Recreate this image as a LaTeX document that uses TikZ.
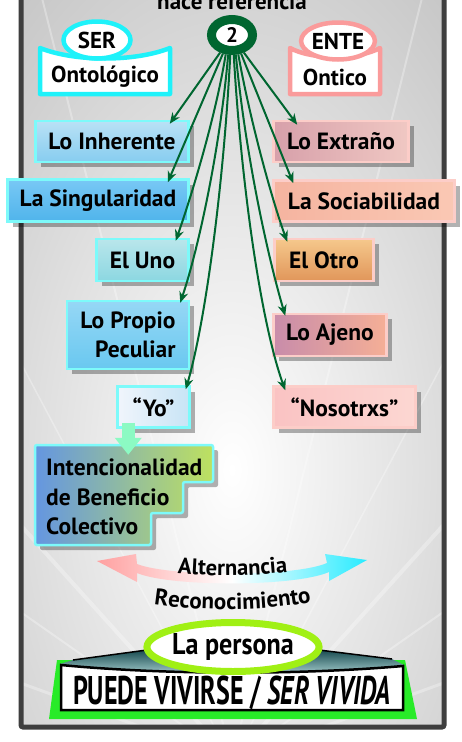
\documentclass[tikz,border=0pt]{standalone}
\usepackage{fontspec}
\setmainfont{PT Sans}
\usetikzlibrary{arrows.meta,shadows,calc,shapes.geometric,decorations.text}

\definecolor{frameC}{RGB}{62,62,62}
\definecolor{bgC}{RGB}{196,196,196}
\definecolor{dgreen}{RGB}{0,102,48}
\definecolor{serC}{RGB}{30,242,250}
\definecolor{enteC}{RGB}{250,155,155}
\definecolor{lbord}{RGB}{125,250,250}
\definecolor{rbord}{RGB}{252,205,200}
\definecolor{inhA}{RGB}{185,225,245}\definecolor{inhB}{RGB}{135,205,240}
\definecolor{sinA}{RGB}{120,200,245}\definecolor{sinB}{RGB}{80,180,235}
\definecolor{unoA}{RGB}{185,230,235}\definecolor{unoB}{RGB}{140,215,225}
\definecolor{proA}{RGB}{150,215,245}\definecolor{proB}{RGB}{105,200,240}
\definecolor{yoA}{RGB}{240,245,252}\definecolor{yoB}{RGB}{200,228,245}
\definecolor{extA}{RGB}{215,160,170}\definecolor{extB}{RGB}{240,200,195}
\definecolor{socA}{RGB}{245,180,160}\definecolor{socB}{RGB}{250,200,180}
\definecolor{otrA}{RGB}{245,200,140}\definecolor{otrB}{RGB}{225,150,90}
\definecolor{ajeA}{RGB}{200,140,170}\definecolor{ajeB}{RGB}{245,175,150}
\definecolor{nosA}{RGB}{250,195,195}\definecolor{nosB}{RGB}{252,215,210}
\definecolor{intA}{RGB}{100,150,225}\definecolor{intB}{RGB}{190,225,95}
\definecolor{arrG}{RGB}{140,250,195}
\definecolor{altL}{RGB}{255,160,160}\definecolor{altR}{RGB}{40,235,255}
\definecolor{perC}{RGB}{160,240,20}
\definecolor{baseG}{RGB}{40,235,40}
\definecolor{roofA}{RGB}{25,75,80}\definecolor{roofB}{RGB}{175,215,215}

\tikzset{
  boxfont/.style={font=\bfseries\fontsize{23.5}{29}\selectfont},
  shad/.style={drop shadow={shadow xshift=5pt,shadow yshift=-5pt,fill=black,opacity=0.3}},
  lbox/.style={boxfont, shad, draw=lbord, line width=2.5pt, minimum height=41, inner sep=2pt},
  rbox/.style={boxfont, shad, draw=rbord, line width=2.5pt, minimum height=41, inner sep=2pt},
  link/.style={draw=dgreen, line width=2pt, -{Stealth[length=11pt,width=9pt]}},
  bigfont/.style={font=\bfseries\fontsize{23}{23}\selectfont},
}

\begin{document}
\begin{tikzpicture}[x=1pt,y=-1pt]
\useasboundingbox (0,0) rectangle (462,742);
\fill[white] (0,0) rectangle (462,742);

% background
\begin{scope}
\clip (21,-10) rectangle (444,727);
\fill[bgC] (21,-10) rectangle (444,727);
\shade[inner color=white, outer color=bgC] (232,470) ellipse [x radius=360, y radius=640];
\foreach \a/\w in {200/3,215/2,228/4,242/1.5,256/2,284/2,298/1.5,312/4,325/2,340/3}
  \draw[white, opacity=0.3, line width=\w pt] (232,760) -- ++(\a:900);
\end{scope}
\draw[frameC, line width=5pt, rounded corners=2pt] (21,-10) rectangle (444,727);

% title and hub
\node[bigfont, anchor=base] (title) at (232,9) {hace referencia};
\node[ellipse, draw=dgreen, line width=9pt, fill=white, minimum width=41, minimum height=31, font=\bfseries\fontsize{21}{21}\selectfont, inner sep=0pt] (two) at (232,35) {2};

% SER
\filldraw[draw=serC, fill=white, line width=4.5pt, line join=round] (40,48) .. controls (75,62) and (135,62) .. (170,48) -- (170,94) -- (40,94) -- cycle;
\node[ellipse, draw=serC, fill=white, line width=4.5pt, minimum width=67, minimum height=37, bigfont, inner sep=0pt] (ser) at (97,40) {SER};
\node[bigfont] (onto) at (105,77) {Ontológico};

% ENTE
\filldraw[draw=enteC, fill=white, line width=4.5pt, line join=round] (290,48) .. controls (312,60) and (358,60) .. (380,48) -- (380,94) -- (290,94) -- cycle;
\node[ellipse, draw=enteC, fill=white, line width=4.5pt, minimum width=70, minimum height=37, bigfont, inner sep=0pt] (ente) at (338,41) {ENTE};
\node[bigfont] (ontico) at (335,77) {Ontico};

% left boxes
\node[lbox, top color=inhA, bottom color=inhB, minimum width=153] (inh) at (112,141.5) {Lo Inherente};
\node[lbox, top color=sinA, bottom color=sinB, minimum width=181, minimum height=42] (sing) at (98,200.5) {La Singularidad};
\node[lbox, top color=unoA, bottom color=unoB, minimum width=92, minimum height=42] (uno) at (142.5,260) {El Uno};
\node[lbox, top color=proA, bottom color=proB, minimum width=122, minimum height=68, align=right] (prop) at (128,335) {Lo Propio\\Peculiar};
\node[lbox, left color=yoA, right color=yoB, minimum width=72] (yo) at (153.5,407) {“Yo”};

% right boxes
\node[rbox, left color=extA, right color=extB, minimum width=135] (ext) at (341,141.5) {Lo Extraño};
\node[rbox, left color=socA, right color=socB, minimum width=181] (soc) at (364,201) {La Sociabilidad};
\node[rbox, top color=otrA, bottom color=otrB, minimum width=99, minimum height=42] (otro) at (324,260) {El Otro};
\node[rbox, left color=ajeA, right color=ajeB, minimum width=113, minimum height=42] (ajeno) at (330,335) {Lo Ajeno};
\node[rbox, left color=nosA, right color=nosB, minimum width=142] (nos) at (344.5,407) {“Nosotrxs”};

% intencionalidad
\path[shad, draw=lbord, line width=2.5pt, left color=intA, right color=intB, rounded corners=2pt] (35,445) -- (213,445) -- (213,482) -- (183,482) -- (183,513) -- (151,513) -- (151,545) -- (35,545) -- cycle;
\node[font=\bfseries\fontsize{23.5}{29.5}\selectfont, align=left, anchor=west, inner sep=0pt] (int) at (46,497) {Intencionalidad\\de Beneficio\\Colectivo};
\draw[arrG, line width=13pt, -{Triangle[length=17pt,width=26pt]}] ($(yo.south west)+(12,-6)$) -- ($(yo.south west)+(12,26)$);

% links
\draw[link] (two.236) -- ($(inh.north east)+(-20,4)$);
\draw[link] (two.244) -- ($(sing.north east)+(-22,4)$);
\draw[link] (two.252) .. controls (215,120) and (190,200) .. ($(uno.north east)+(-14,3)$);
\draw[link] (two.259) .. controls (220,150) and (198,250) .. ($(prop.north east)+(-10,3)$);
\draw[link] (two.265) .. controls (224,180) and (206,320) .. ($(yo.north east)+(-5,4)$);
\draw[link] (two.275) .. controls (241,180) and (260,320) .. ($(nos.north west)+(13,5)$);
\draw[link] (two.281) .. controls (245,150) and (266,250) .. ($(ajeno.north west)+(13,3)$);
\draw[link] (two.288) .. controls (250,120) and (272,200) .. ($(otro.north west)+(14,4)$);
\draw[link] (two.296) -- ($(soc.north west)+(21,4)$);
\draw[link] (two.304) -- ($(ext.north west)+(25,5)$);

% alternancia arrow
\shade[left color=altL, right color=altR, middle color=white] (97,561) -- (136,554) -- (137,564) .. controls (170,577) and (295,577) .. (327,563) -- (325,554) -- (367,560) -- (329,581) -- (329,572) .. controls (295,587) and (170,587) .. (137,573) -- (137,582) -- cycle;
\path[decorate, decoration={text along path, text align=center, text={|\bfseries\fontsize{22.5}{22.5}\selectfont|Alternancia}}] (130,567) .. controls (190,579) and (275,579) .. (335,564);
\path[decorate, decoration={text along path, text align=center, text={|\bfseries\fontsize{23}{23}\selectfont|Reconocimiento}}] (130,600) .. controls (190,613) and (275,613) .. (335,597);

% base
\fill[baseG] (57,660) -- (405,660) -- (417,719) -- (49,719) -- cycle;
\shade[top color=roofA, bottom color=roofB] (60,664) -- (73,660) -- (147,650) -- (319,650) -- (392,659) -- (404,665) .. controls (300,676) and (165,676) .. (60,664) -- cycle;
\draw[black, line width=1.5pt] (73,660) -- (147,650) (319,650) -- (392,659);
\filldraw[fill=white, draw=black, line width=2.5pt] (61,665) .. controls (165,675) and (300,675) .. (403,666) -- (403,710) -- (61,710) -- cycle;
\node[font=\bfseries\fontsize{40}{40}\selectfont, inner sep=0pt] (viv) at (232,693) {\scalebox{0.65}[1]{PUEDE VIVIRSE / \textit{SER VIVIDA}}};
\node[ellipse, draw=perC, fill=white, line width=7pt, minimum width=165, minimum height=49, font=\bfseries\fontsize{30}{30}\selectfont, inner sep=0pt] (per) at (233,647) {\scalebox{0.87}[1]{La persona}};
\end{tikzpicture}
\end{document}
